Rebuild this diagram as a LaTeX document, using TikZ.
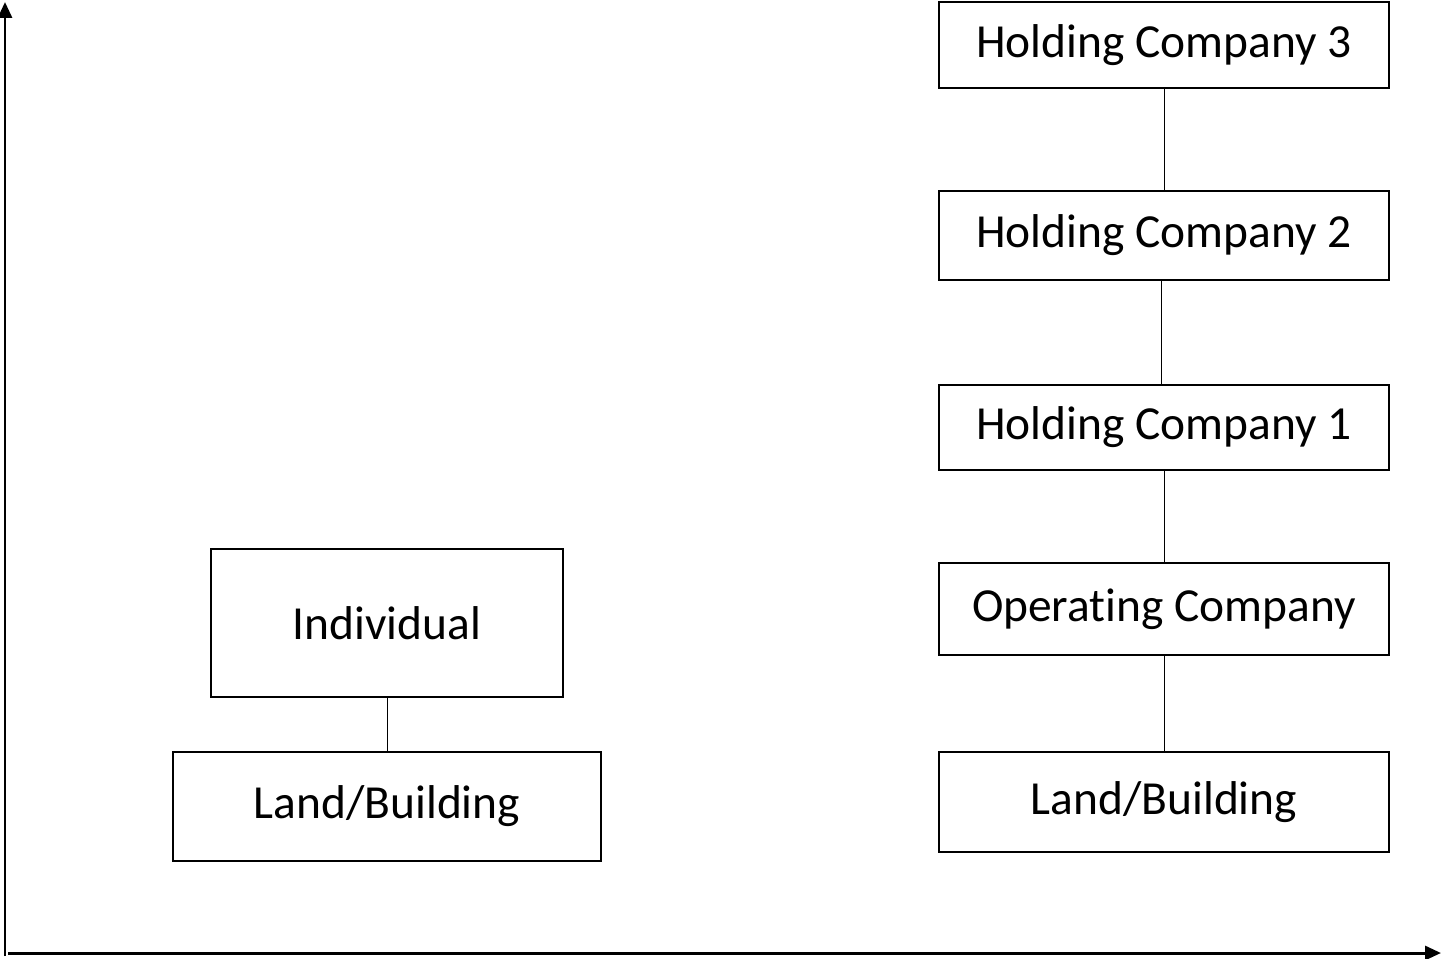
\documentclass[tikz,border=0pt]{standalone}
\usepackage{fontspec}
\setmainfont{Carlito}[Ligatures=NoCommon]
\usetikzlibrary{arrows.meta,positioning}

\tikzset{
  orgbox/.style={draw, line width=1.1pt, inner sep=0pt, minimum width=9cm, font=\fontsize{27}{32}\selectfont},
  link/.style={line width=0.55pt},
  axis/.style={line width=1.7pt, -{Triangle[width=0.28cm,length=0.32cm]}}
}

\begin{document}
\begin{tikzpicture}[x=0.02cm,y=-0.02cm]
\useasboundingbox (0,0) rectangle (1443,959);

% axes
\coordinate (yo) at (5,956);
\coordinate (ytop) at (5,2);
\coordinate (xo) at (8,953);
\coordinate (xend) at (1441,953);
\draw[axis] (yo) -- (ytop);
\draw[axis] (xo) -- (xend);

% left: individual
\node[orgbox, minimum width=7.04cm, minimum height=2.96cm] (ind) at (387,623) {Individual};
\node[orgbox, minimum width=8.56cm, minimum height=2.18cm] (landl) at (387,806.5) {Land/Building};
\draw[link] (ind) -- (landl);

% right: holding chain
\node[orgbox, minimum height=1.72cm] (hc3) at (1164,45) {Holding Company 3};
\node[orgbox, minimum height=1.78cm] (hc2) at (1164,235.5) {Holding Company 2};
\node[orgbox, minimum height=1.70cm] (hc1) at (1164,427.5) {Holding Company 1};
\node[orgbox, minimum height=1.84cm] (opco) at (1164,609) {Operating Company};
\node[orgbox, minimum height=2.00cm] (landr) at (1164,802) {Land/Building};

\draw[link] (hc3) -- (hc2);
\draw[link] (hc2.south -| 1161,0) -- (hc1.north -| 1161,0);
\draw[link] (hc1) -- (opco);
\draw[link] (opco) -- (landr);

\end{tikzpicture}
\end{document}
